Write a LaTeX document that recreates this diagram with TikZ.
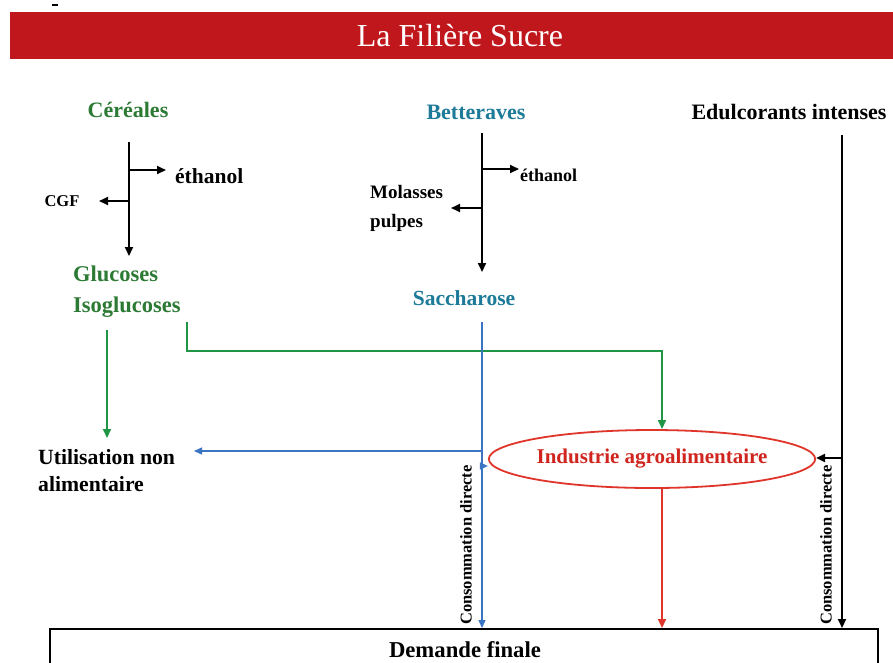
\documentclass[tikz,border=0pt]{standalone}
\usepackage{fontspec}
\setmainfont{Liberation Serif}
\usetikzlibrary{arrows.meta,shapes.geometric}
\definecolor{barred}{HTML}{C0171D}
\definecolor{gtext}{HTML}{2C7A34}
\definecolor{gline}{HTML}{1E9646}
\definecolor{btext}{HTML}{1D7A98}
\definecolor{bline}{HTML}{3C74C4}
\definecolor{rline}{HTML}{E0352B}
\definecolor{rtext}{HTML}{D0251F}
\tikzset{
  lbl/.style={inner sep=0pt, font=\bfseries\fontsize{22}{27}\selectfont},
  blk/.style={line width=2pt, draw=black, -{Triangle[length=9pt,width=8pt]}},
  grn/.style={line width=2pt, draw=gline, -{Triangle[length=9pt,width=8pt]}},
  blu/.style={line width=1.3pt, draw=bline, -{Triangle[length=8pt,width=7pt]}},
  red/.style={line width=2pt, draw=rline, -{Triangle[length=9pt,width=8pt]}},
}
\begin{document}
\begin{tikzpicture}[x=1pt,y=-1pt]
\useasboundingbox (0,0) rectangle (893,662);
\clip (0,0) rectangle (893,662);
\fill[white] (0,0) rectangle (893,662);
% stray mark and title bar
\draw[line width=1.2pt] (52,5) -- (58,5);
\fill[barred] (10,12) rectangle (893,59);
\node[inner sep=0pt, text=white, font=\fontsize{32}{36}\selectfont] (title) at (460,36) {La Filière Sucre};
% sources
\node[lbl, text=gtext] (cer) at (128,110) {Céréales};
\node[lbl, text=btext] (bet) at (476,112) {Betteraves};
\node[lbl] (edul) at (789,112) {Edulcorants intenses};
% by-products
\node[lbl, anchor=west, font=\bfseries\fontsize{21.5}{26}\selectfont] (eth1) at (175,176) {éthanol};
\node[lbl, font=\bfseries\fontsize{16.5}{20}\selectfont] (cgf) at (62,201) {CGF};
\node[lbl, anchor=west, font=\bfseries\fontsize{18}{22}\selectfont] (eth2) at (520,175) {éthanol};
\node[lbl, anchor=west, align=left, font=\bfseries\fontsize{19}{29}\selectfont] (mol) at (370,208) {Molasses\\pulpes};
% products
\node[lbl, anchor=west, align=left, text=gtext, font=\bfseries\fontsize{22.5}{31}\selectfont] (gluc) at (73,292) {Glucoses\\Isoglucoses};
\node[lbl, text=btext, font=\bfseries\fontsize{21.5}{26}\selectfont] (sac) at (464,298) {Saccharose};
\node[lbl, anchor=west, align=left, font=\bfseries\fontsize{21.7}{27}\selectfont] (util) at (38,471) {Utilisation non\\alimentaire};
\node[ellipse, draw=rline, line width=1.8pt, minimum width=283pt, minimum height=58pt, inner sep=0pt,
      text=rtext, font=\bfseries\fontsize{21}{25}\selectfont] (ind) at (652,459) {Industrie agroalimentaire};
\node[lbl, rotate=90, font=\bfseries\fontsize{16.5}{20}\selectfont] (cons1) at (466,545) {Consommation directe};
\node[lbl, rotate=90, font=\bfseries\fontsize{16.5}{20}\selectfont] (cons2) at (826,545) {Consommation directe};
% final demand box
\draw[line width=2.2pt] (50,700) -- (50,629) -- (878,629) -- (878,700);
\node[lbl, font=\bfseries\fontsize{22.7}{27}\selectfont] (dem) at (465,650) {Demande finale};
% coordinates
\coordinate (ct) at (129,142);
\coordinate (cb) at (129,256);
\coordinate (ce) at (129,170);
\coordinate (cee) at (166,170);
\coordinate (cg) at (129,201);
\coordinate (cge) at (99,201);
\coordinate (bt) at (482,133);
\coordinate (bb) at (482,272);
\coordinate (be) at (482,169);
\coordinate (bee) at (519,169);
\coordinate (bm) at (482,208);
\coordinate (bme) at (451,208);
\coordinate (et) at (842,135);
\coordinate (eb) at (842,628);
\coordinate (ei) at (842,458);
\coordinate (g1) at (107,330);
\coordinate (g1e) at (107,438);
\coordinate (g2) at (187,322);
\coordinate (g2c) at (662,351);
\coordinate (g2e) at (662,429);
\coordinate (s0) at (482,322);
\coordinate (s1) at (482,628);
\coordinate (su) at (482,451);
\coordinate (sue) at (194,451);
\coordinate (si) at (482,466);
\coordinate (r0) at (662,488);
\coordinate (r1) at (662,628);
% cereal chain
\draw[blk] (ct) -- (cb);
\draw[blk] (ce) -- (cee);
\draw[blk] (cg) -- (cge);
% beet chain
\draw[blk] (bt) -- (bb);
\draw[blk] (be) -- (bee);
\draw[blk] (bm) -- (bme);
% sweeteners
\draw[blk] (et) -- (eb);
\draw[blk] (ei) -- (ind.east |- ei);
% green flows
\draw[grn] (g1) -- (g1e);
\draw[grn] (g2) |- (g2c) -- (g2e);
% blue flows
\draw[blu] (s0) -- (s1);
\draw[blu] (su) -- (sue);
\draw[blu] (si) -- (ind.west |- si);
% red flow
\draw[red] (r0) -- (r1);
\end{tikzpicture}
\end{document}
